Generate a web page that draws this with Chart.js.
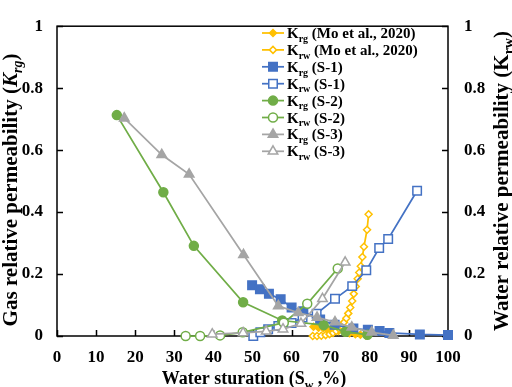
<!DOCTYPE html>
<html>
<head>
<meta charset="utf-8">
<script src="https://cdn.jsdelivr.net/npm/chart.js@4.4.0/dist/chart.umd.min.js"></script>
<style>
  html, body { margin: 0; padding: 0; background: #fff; }
  #wrap { width: 512px; height: 387px; position: relative; }
</style>
</head>
<body>
<div id="wrap"><canvas id="chart"></canvas></div>
<script>
// values (Sw in %, permeabilities 0..1)
var moKrgX = [65.6, 66.9, 68.1, 69.4, 70.6, 72.0, 73.5, 74.8, 76.3, 77.6, 79.0];
var moKrgY = [0.030, 0.027, 0.025, 0.021, 0.018, 0.016, 0.012, 0.009, 0.006, 0.004, 0.002];
var moKrwX = [65.4, 66.5, 67.6, 68.7, 69.7, 70.6, 71.4, 72.1, 72.8, 73.4, 74.0, 74.5, 75.0, 75.5, 75.9, 76.4, 76.9, 77.3, 77.7, 78.1, 78.5, 79.3, 79.7];
var moKrwY = [0.000, 0.000, 0.001, 0.003, 0.006, 0.010, 0.016, 0.024, 0.033, 0.044, 0.057, 0.073, 0.092, 0.113, 0.136, 0.160, 0.185, 0.205, 0.225, 0.255, 0.288, 0.343, 0.393];

var s1KrgX = [49.9, 51.9, 54.2, 57.2, 60.0, 63.0, 67.3, 71.0, 75.8, 79.5, 82.5, 85.0, 92.8, 100];
var s1KrgY = [0.164, 0.151, 0.136, 0.119, 0.092, 0.080, 0.053, 0.036, 0.024, 0.020, 0.016, 0.010, 0.005, 0.003];
var s1KrwX = [50.2, 52.0, 54.0, 56.6, 60.0, 62.8, 66.4, 71.1, 75.5, 79.1, 82.4, 84.7, 92.1];
var s1KrwY = [0.000, 0.012, 0.022, 0.032, 0.042, 0.060, 0.072, 0.120, 0.161, 0.212, 0.284, 0.313, 0.469];

var s2KrgX = [15.3, 27.2, 35.0, 47.6, 57.6, 68.2, 73.8, 79.4];
var s2KrgY = [0.713, 0.464, 0.291, 0.109, 0.050, 0.035, 0.014, 0.004];
var s2KrwX = [32.9, 36.6, 41.7, 47.5, 58.0, 64.0, 71.8];
var s2KrwY = [0.000, 0.000, 0.002, 0.012, 0.043, 0.104, 0.218];

var s3KrgX = [17.2, 26.8, 33.8, 47.7, 56.6, 61.7, 66.5, 71.1, 75.4, 80.5, 86.0];
var s3KrgY = [0.703, 0.585, 0.522, 0.262, 0.097, 0.075, 0.060, 0.045, 0.028, 0.012, 0.002];
var s3KrwX = [39.7, 47.6, 53.5, 57.8, 62.4, 67.9, 73.7];
var s3KrwY = [0.006, 0.010, 0.015, 0.022, 0.040, 0.120, 0.238];

var legendNames = ['(Mo et al., 2020)', '(Mo et al., 2020)', '(S-1)', '(S-1)', '(S-2)', '(S-2)', '(S-3)', '(S-3)'];
var legendSubs = ['rg', 'rw', 'rg', 'rw', 'rg', 'rw', 'rg', 'rw'];

var YELLOW = '#FFC000', BLUE = '#4472C4', GREEN = '#70AD47', GRAY = '#A5A5A5';
var SERIF = '"Liberation Serif", "Times New Roman", serif';

function pts(xs, ys) {
    return xs.map(function (x, i) { return { x: x, y: ys[i] }; });
}

function series(label, xs, ys, color, style, radius, filled, order) {
    return {
        label: label,
        data: pts(xs, ys),
        showLine: true,
        borderColor: color,
        backgroundColor: color,
        borderWidth: 1.75,
        pointStyle: style,
        pointRadius: radius,
        pointBorderWidth: 1.5,
        pointBorderColor: color,
        pointBackgroundColor: filled ? color : '#ffffff',
        clip: false,
        order: order
    };
}

var datasets = [
    series('Krg Mo', moKrgX, moKrgY, YELLOW, 'rectRot', 3.5, true, 8),
    series('Krw Mo', moKrwX, moKrwY, YELLOW, 'rectRot', 3.5, false, 7),
    series('Krg S-1', s1KrgX, s1KrgY, BLUE, 'rect', 6, true, 6),
    series('Krw S-1', s1KrwX, s1KrwY, BLUE, 'rect', 6, false, 5),
    series('Krg S-2', s2KrgX, s2KrgY, GREEN, 'circle', 4.5, true, 4),
    series('Krw S-2', s2KrwX, s2KrwY, GREEN, 'circle', 4.5, false, 3),
    series('Krg S-3', s3KrgX, s3KrgY, GRAY, 'triangle', 5.5, true, 2),
    series('Krw S-3', s3KrwX, s3KrwY, GRAY, 'triangle', 5.5, false, 1)
];

function fontFor(p, size) {
    var s = p.sub ? Math.round(size * 0.66) : size;
    return (p.it ? 'italic ' : '') + 'bold ' + s + 'px ' + SERIF;
}

function drawRich(ctx, parts, x, y, size, align) {
    var w = 0;
    parts.forEach(function (p) { ctx.font = fontFor(p, size); w += ctx.measureText(p.t).width; });
    var cx = align === 'center' ? x - w / 2 : x;
    parts.forEach(function (p) {
        ctx.font = fontFor(p, size);
        ctx.fillText(p.t, cx, p.sub ? y + size * 0.25 : y);
        cx += ctx.measureText(p.t).width;
    });
}

var frame = {
    id: 'frame',
    beforeDatasetsDraw: function (chart) {
        var ctx = chart.ctx, a = chart.chartArea;
        ctx.save();
        ctx.strokeStyle = '#000';
        ctx.lineWidth = 1.5;
        ctx.strokeRect(a.left, a.top, a.right - a.left, a.bottom - a.top);
        ctx.beginPath();
        var sx = chart.scales.x;
        sx.ticks.forEach(function (t, i) {
            var p = Math.round(sx.getPixelForTick(i)) + 0.5;
            ctx.moveTo(p, a.bottom); ctx.lineTo(p, a.bottom - 6);
        });
        var sy = chart.scales.y;
        sy.ticks.forEach(function (t, i) {
            var p = Math.round(sy.getPixelForTick(i)) + 0.5;
            ctx.moveTo(a.left, p); ctx.lineTo(a.left + 6, p);
            ctx.moveTo(a.right, p); ctx.lineTo(a.right - 6, p);
        });
        ctx.stroke();
        ctx.restore();
    },
    afterDraw: function (chart) {
        var ctx = chart.ctx;
        ctx.save();
        ctx.fillStyle = '#000';
        ctx.textBaseline = 'alphabetic';
        ctx.textAlign = 'left';

        // x title
        drawRich(ctx, [{ t: 'Water sturation (S' }, { t: 'w', sub: true }, { t: ' ,%)' }], 254, 384, 18, 'center');

        // left title
        ctx.save();
        ctx.translate(17, 190);
        ctx.rotate(-Math.PI / 2);
        drawRich(ctx, [{ t: 'Gas relative permeability (' }, { t: 'K', it: true }, { t: 'rg', sub: true, it: true }, { t: ')' }], 0, 0, 21, 'center');
        ctx.restore();

        // right title
        ctx.save();
        ctx.translate(508, 181);
        ctx.rotate(-Math.PI / 2);
        drawRich(ctx, [{ t: 'Water relative permeability (K' }, { t: 'rw', sub: true }, { t: ')' }], 0, 0, 21, 'center');
        ctx.restore();

        // legend
        datasets.forEach(function (ds, i) {
            var cy = 33 + i * 16.9;
            ctx.strokeStyle = ds.borderColor;
            ctx.lineWidth = 1.75;
            ctx.beginPath();
            ctx.moveTo(262, cy); ctx.lineTo(284, cy);
            ctx.stroke();
            ctx.fillStyle = ds.pointBackgroundColor;
            ctx.strokeStyle = ds.pointBorderColor;
            ctx.lineWidth = 1.5;
            Chart.helpers.drawPoint(ctx, { pointStyle: ds.pointStyle, radius: ds.pointRadius, rotation: 0, borderWidth: 1.5 }, 273, cy);
            ctx.fillStyle = '#000';
            drawRich(ctx, [{ t: 'K' }, { t: legendSubs[i], sub: true }, { t: ' ' + legendNames[i] }], 287, cy + 5, 15, 'left');
        });
        ctx.restore();
    }
};

var tickFont = { family: SERIF, size: 17, weight: 'bold' };
function fmt(v) { return String(+v.toFixed(1)); }

new Chart(document.getElementById('chart'), {
    type: 'scatter',
    data: { datasets: datasets },
    options: {
        responsive: true,
        maintainAspectRatio: false,
        animation: false,
        layout: { padding: { top: 5, left: 0, right: 0, bottom: 0 } },
        plugins: { legend: { display: false }, tooltip: { enabled: false } },
        scales: {
            x: {
                type: 'linear', min: 0, max: 100,
                grid: { display: false, drawTicks: false },
                border: { display: false },
                ticks: { stepSize: 10, color: '#000', font: tickFont, padding: 11, maxRotation: 0 },
                afterFit: function (s) { s.height = 51; }
            },
            y: {
                type: 'linear', position: 'left', min: 0, max: 1,
                grid: { display: false, drawTicks: false },
                border: { display: false },
                ticks: { stepSize: 0.2, color: '#000', font: tickFont, padding: 14, callback: fmt },
                afterFit: function (s) { s.width = 57; }
            },
            y2: {
                type: 'linear', position: 'right', min: 0, max: 1,
                grid: { display: false, drawTicks: false },
                border: { display: false },
                ticks: { stepSize: 0.2, color: '#000', font: tickFont, padding: 16, callback: fmt },
                afterFit: function (s) { s.width = 64; }
            }
        }
    },
    plugins: [frame]
});
</script>
</body>
</html>
